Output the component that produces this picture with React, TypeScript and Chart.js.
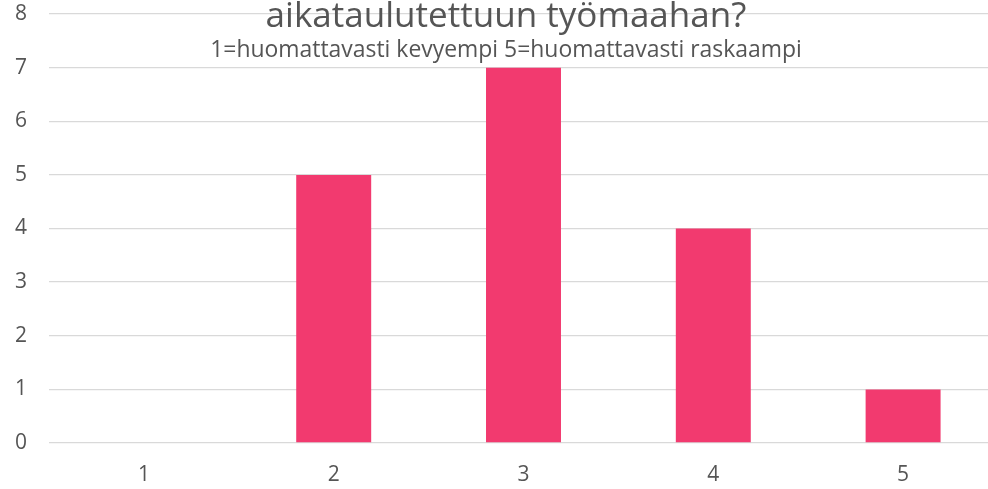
import React, { useEffect, useRef } from "react";
import { Chart, registerables } from "chart.js";

Chart.register(...registerables);

const categories = ["1", "2", "3", "4", "5"];
const counts = [0, 5, 7, 4, 1];
const titleText = "aikataulutettuun työmaahan?";
const subtitleText = "1=huomattavasti kevyempi 5=huomattavasti raskaampi";

const TEXT = "#555555";

const titlePlugin = {
  id: "fittedTitle",
  afterDraw(chart: any) {
    const ctx = chart.ctx;
    const cx = chart.width / 2;
    const draw = (t: string, target: number, baseline: number, family: string) => {
      ctx.save();
      ctx.font = `100px ${family}`;
      const w = ctx.measureText(t).width;
      const size = (100 * target) / w;
      ctx.font = `${size}px ${family}`;
      ctx.fillStyle = TEXT;
      ctx.textAlign = "center";
      ctx.textBaseline = "alphabetic";
      ctx.fillText(t, cx, baseline);
      ctx.restore();
    };
    draw(titleText, 481, 27, "'Open Sans'");
    draw(subtitleText, 592, 57, "'Open Sans'");
  },
};

export default function App() {
  const ref = useRef<HTMLCanvasElement>(null);
  useEffect(() => {
    const chart = new Chart(ref.current!, {
      type: "bar",
      data: {
        labels: categories,
        datasets: [
          {
            data: counts,
            backgroundColor: "#F23A6F",
            barPercentage: 0.395,
            categoryPercentage: 1,
          },
        ],
      },
      options: {
        responsive: false,
        animation: false,
        layout: { padding: { top: 14, right: 14, left: 0, bottom: 0 } },
        plugins: { legend: { display: false }, tooltip: { enabled: false }, title: { display: false } },
        scales: {
          x: {
            grid: { display: false, drawTicks: false },
            border: { display: false },
            ticks: { color: TEXT, font: { family: "'Open Sans'", size: 21 }, padding: 19 },
            afterFit: (s: any) => { s.height = 46; s.paddingLeft = 0; s.paddingRight = 0; },
          },
          y: {
            min: 0,
            max: 8,
            grid: { color: "#d9d9d9", lineWidth: 1.3, drawTicks: false },
            border: { display: false },
            ticks: { stepSize: 1, color: TEXT, font: { family: "'Open Sans'", size: 21 }, padding: 22 },
            afterFit: (s: any) => { s.width = 49; s.paddingTop = 0; s.paddingBottom = 0; },
          },
        },
      },
      plugins: [titlePlugin],
    });
    return () => chart.destroy();
  }, []);
  return (
    <div style={{ position: "fixed", left: 0, top: 0, width: 988, height: 489, overflow: "hidden", background: "#fff" }}>
      <canvas ref={ref} width={1012} height={489} />
    </div>
  );
}
